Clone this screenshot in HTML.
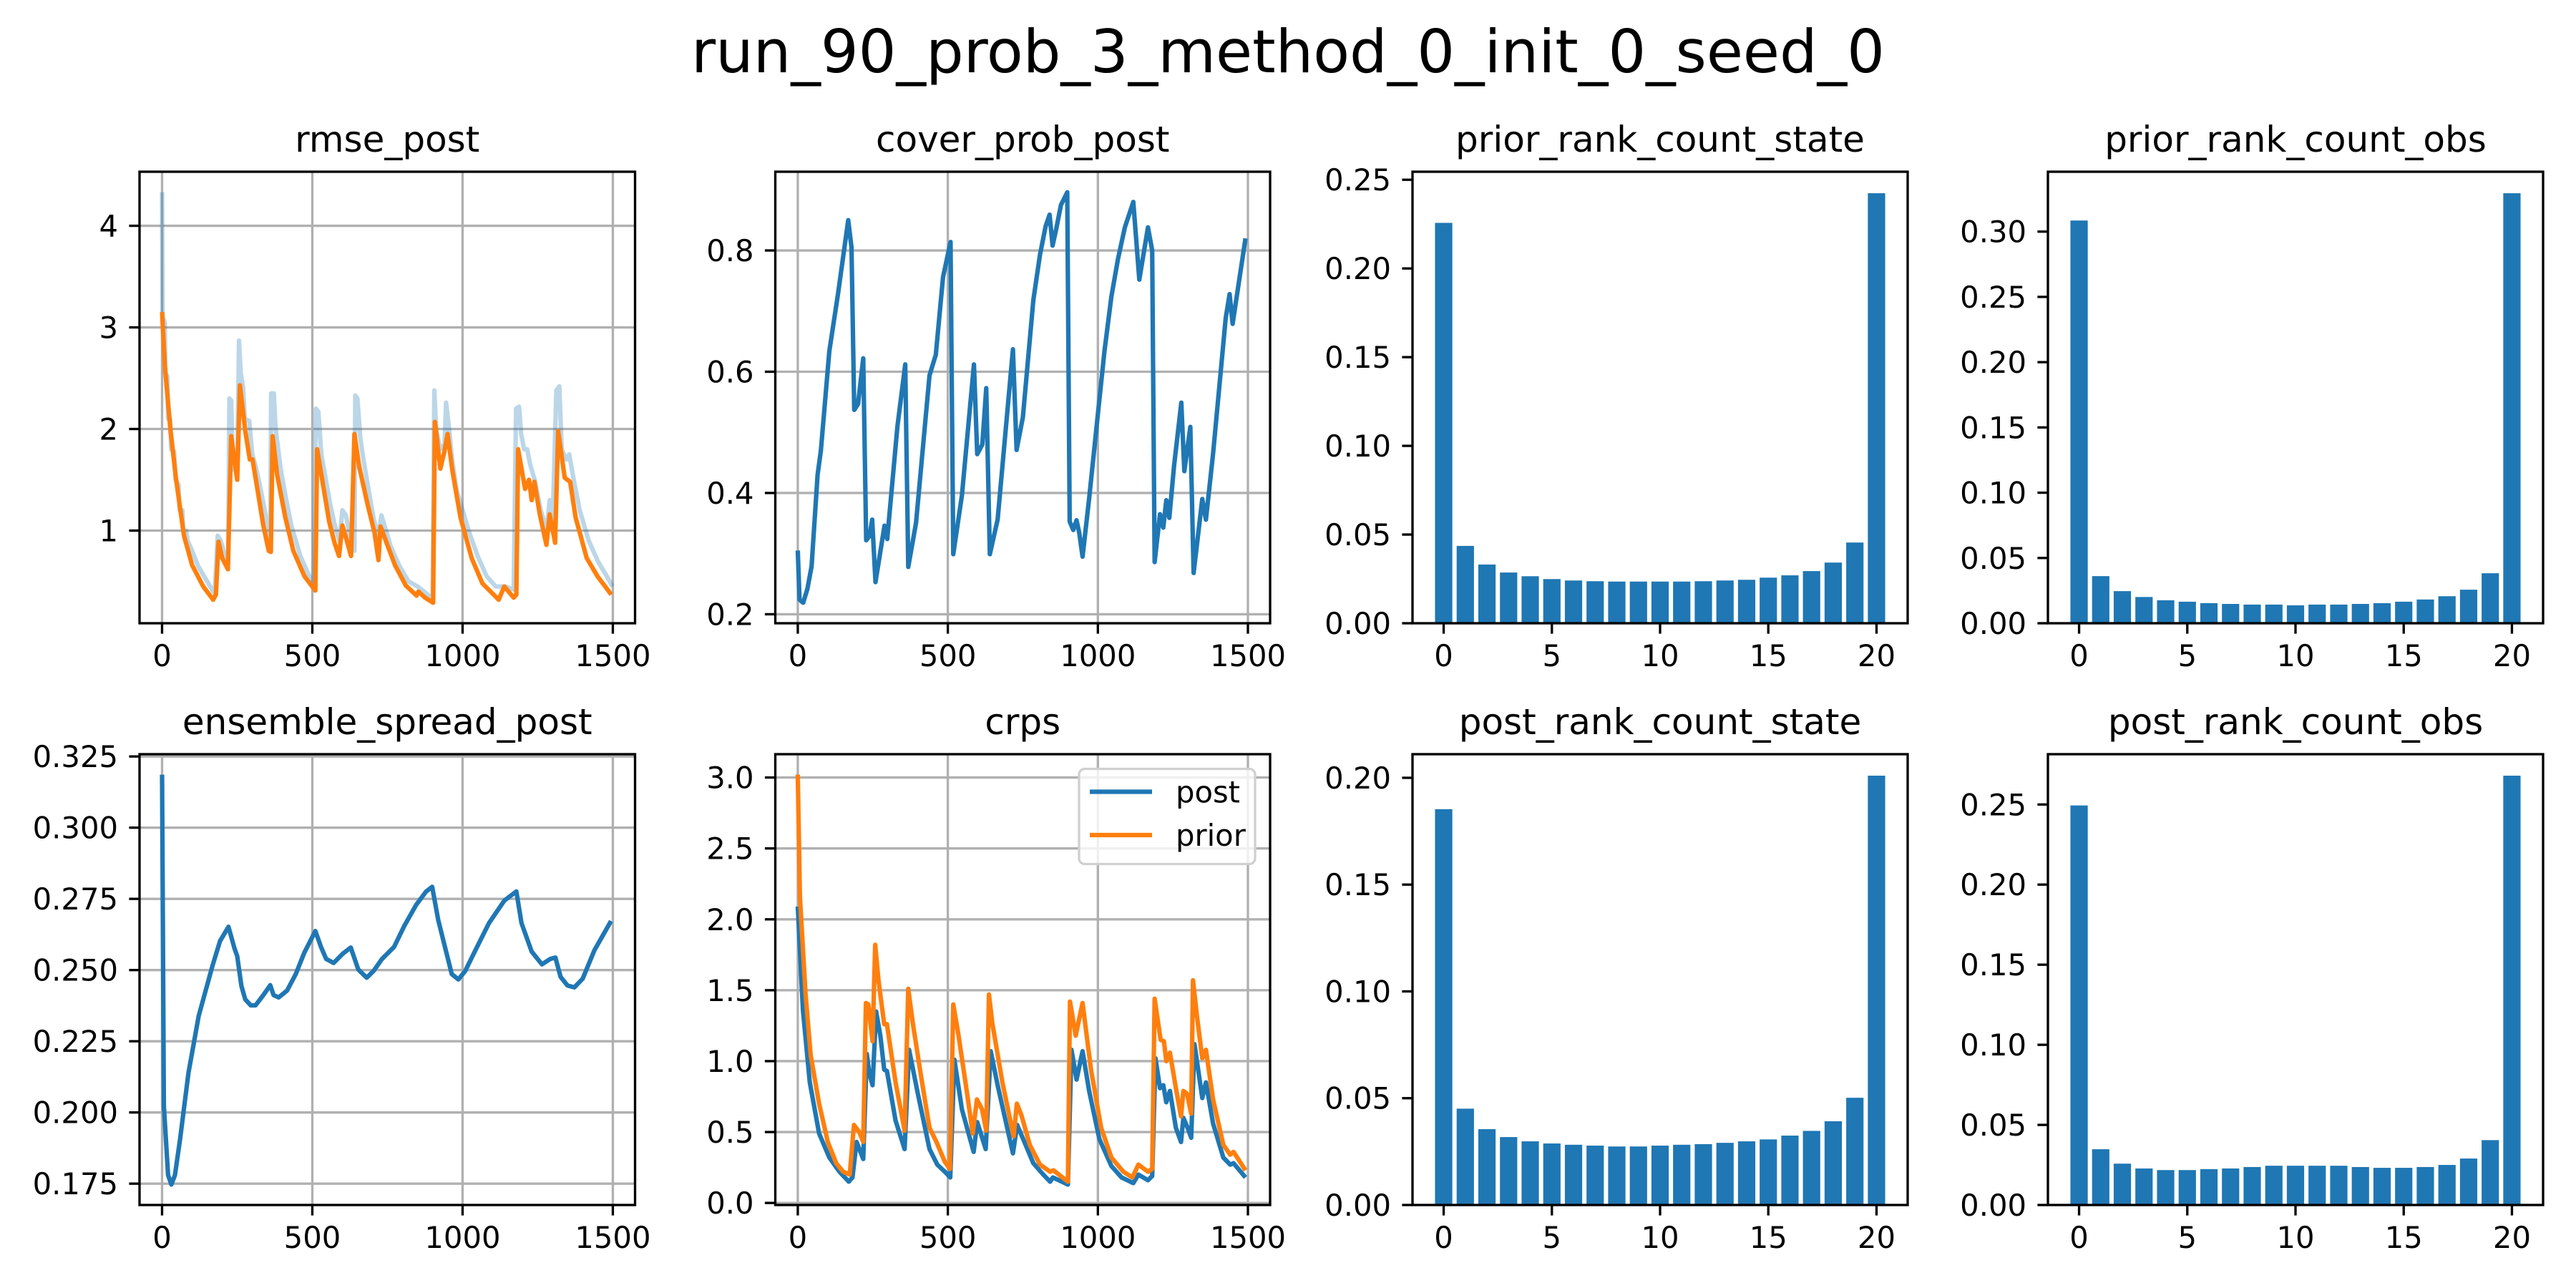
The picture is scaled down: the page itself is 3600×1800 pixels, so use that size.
<!DOCTYPE html>
<html><head><meta charset="utf-8"><title>run_90_prob_3_method_0_init_0_seed_0</title>
<style>html,body{margin:0;padding:0;background:#fff}svg{display:block}text{font-family:"DejaVu Sans","Liberation Sans",sans-serif;fill:#000}</style>
</head><body>
<svg id="fig" xmlns="http://www.w3.org/2000/svg" width="3600" height="1800" viewBox="0 0 3600 1800">
<rect x="0" y="0" width="3600" height="1800" fill="#fff"/>
<text x="1800" y="101" font-size="83" text-anchor="middle">run_90_prob_3_method_0_init_0_seed_0</text>
</svg>
<script>
// ---- data ----
const timeTicks=[0,500,1000,1500];
const rmseLightX=[0,2,9,11,18,20,27,30,40,45,55,58,68,70,80,85,100,120,140,160,175,185,195,205,215,220,224,230,236,250,256,262,270,275,290,300,310,325,345,360,363,372,378,395,410,430,460,490,505,512,520,530,545,560,575,590,600,612,625,640,643,650,660,670,690,705,720,730,745,760,790,820,850,880,900,906,912,925,940,945,955,965,980,1000,1020,1050,1080,1110,1140,1170,1178,1188,1195,1205,1215,1225,1240,1260,1280,1290,1300,1312,1322,1330,1345,1355,1370,1390,1420,1450,1480,1499];
const rmseLightY=[4.33,3.1,3.05,2.55,2.52,2.1,2.1,1.8,1.78,1.5,1.45,1.2,1.2,1.0,1.0,0.9,0.8,0.65,0.55,0.45,0.38,0.95,0.9,0.8,0.7,0.7,2.3,2.28,1.6,1.6,2.87,2.55,2.4,2.1,2.08,1.75,1.65,1.45,1.15,0.9,2.35,2.35,2.0,1.6,1.35,1.05,0.75,0.55,0.45,2.2,2.17,1.75,1.5,1.25,1.05,0.9,1.2,1.15,0.95,0.8,2.33,2.3,1.9,1.7,1.35,1.1,0.95,1.15,1.0,0.85,0.65,0.5,0.45,0.38,0.33,2.38,2.0,1.8,1.85,2.26,2.0,1.7,1.4,1.2,1.0,0.75,0.55,0.45,0.45,0.42,2.2,2.22,1.95,1.8,1.8,1.65,1.5,1.2,1.0,1.3,1.1,2.38,2.42,1.8,1.7,1.75,1.5,1.2,0.9,0.7,0.55,0.45];
const rmseX=[0,9,27,46,73,100,137,170,179,188,200,219,230,250,259,277,292,301,319,337,355,362,368,383,410,437,474,510,516,538,556,574,589,600,614,629,640,656,683,707,720,727,747,775,811,847,853,875,902,908,926,939,950,966,993,1030,1066,1120,1139,1170,1179,1185,1208,1221,1230,1239,1257,1279,1290,1308,1318,1340,1358,1376,1413,1449,1495];
const rmseY=[3.15,2.63,2.02,1.52,0.95,0.66,0.45,0.32,0.37,0.89,0.73,0.62,1.93,1.50,2.43,1.98,1.70,1.70,1.38,1.05,0.80,0.79,1.93,1.55,1.13,0.80,0.55,0.41,1.80,1.41,1.09,0.88,0.75,1.05,0.91,0.75,1.95,1.63,1.27,0.98,0.71,1.04,0.88,0.66,0.46,0.36,0.40,0.34,0.29,2.07,1.61,1.77,1.95,1.59,1.13,0.73,0.48,0.32,0.45,0.34,0.37,1.80,1.41,1.50,1.30,1.48,1.16,0.86,1.16,0.88,1.98,1.52,1.48,1.13,0.73,0.55,0.37];
const coverX=[0,6,18,32,46,66,77,105,134,168,179,188,201,218,228,239,248,259,289,298,332,358,368,394,439,460,484,509,518,547,587,598,615,628,640,666,717,729,750,785,807,826,839,849,861,877,898,906,918,929,938,949,971,1000,1022,1045,1067,1090,1118,1138,1167,1181,1189,1207,1218,1228,1238,1254,1278,1288,1308,1319,1348,1360,1384,1426,1439,1449,1492];
const coverY=[0.305,0.224,0.219,0.242,0.279,0.430,0.470,0.634,0.728,0.850,0.805,0.537,0.547,0.622,0.322,0.329,0.356,0.253,0.346,0.324,0.510,0.612,0.278,0.351,0.594,0.628,0.756,0.814,0.299,0.396,0.612,0.464,0.480,0.573,0.299,0.356,0.637,0.471,0.525,0.718,0.793,0.840,0.859,0.808,0.835,0.875,0.896,0.353,0.339,0.355,0.334,0.295,0.391,0.530,0.634,0.724,0.786,0.838,0.880,0.752,0.838,0.800,0.286,0.365,0.343,0.388,0.359,0.445,0.549,0.436,0.509,0.268,0.390,0.356,0.465,0.689,0.728,0.679,0.820];
const spreadX=[0,6,20,31,43,60,88,122,167,193,221,241,250,264,277,295,311,337,360,371,388,416,445,473,510,529,546,571,602,628,653,681,704,732,772,806,845,879,899,919,964,986,1009,1043,1088,1139,1179,1196,1230,1264,1292,1309,1326,1349,1372,1400,1439,1494];
const spreadY=[0.3186,0.2023,0.178,0.1747,0.178,0.1907,0.2139,0.2339,0.2512,0.2602,0.2652,0.2576,0.2549,0.2444,0.2397,0.2376,0.2376,0.2412,0.2447,0.2412,0.2404,0.2428,0.2486,0.256,0.2637,0.2581,0.2539,0.2525,0.2558,0.2579,0.2502,0.2473,0.2497,0.2539,0.2581,0.2655,0.2728,0.2776,0.2792,0.2676,0.2486,0.2467,0.2497,0.257,0.2665,0.2744,0.2776,0.2665,0.2565,0.252,0.2539,0.2544,0.2476,0.2446,0.2439,0.247,0.257,0.2672];
const crpsPriorX=[0,7,26,43,71,100,128,151,173,187,205,218,227,235,249,258,269,288,297,326,356,368,383,411,439,462,490,507,518,535,563,583,597,614,628,637,648,682,719,730,745,773,807,841,852,900,907,926,949,977,1011,1045,1085,1115,1135,1167,1181,1189,1209,1220,1228,1240,1260,1277,1285,1297,1311,1317,1330,1348,1360,1384,1418,1441,1452,1492];
const crpsPriorY=[3.02,2.16,1.47,1.04,0.70,0.43,0.28,0.22,0.20,0.55,0.50,0.43,1.41,1.40,1.14,1.82,1.57,1.26,1.26,0.85,0.51,1.51,1.27,0.89,0.53,0.43,0.29,0.24,1.40,1.19,0.79,0.49,0.73,0.66,0.51,1.47,1.27,0.85,0.47,0.70,0.62,0.41,0.27,0.22,0.23,0.15,1.42,1.18,1.41,0.94,0.53,0.32,0.22,0.18,0.27,0.22,0.24,1.44,1.15,1.14,1.00,1.06,0.81,0.61,0.79,0.77,0.63,1.57,1.32,1.02,1.08,0.73,0.41,0.34,0.36,0.23];
const crpsPostX=[0,17,40,71,105,139,170,182,196,218,230,238,249,261,275,288,297,326,356,371,400,439,465,490,508,522,547,586,598,626,643,666,717,731,751,785,818,841,850,900,912,929,949,971,1005,1045,1079,1118,1135,1167,1181,1192,1207,1218,1228,1240,1260,1277,1285,1299,1311,1322,1348,1360,1384,1418,1441,1452,1492];
const crpsPostY=[2.09,1.36,0.85,0.49,0.32,0.22,0.15,0.18,0.43,0.31,1.05,0.92,0.83,1.35,1.18,0.94,0.93,0.58,0.38,1.08,0.77,0.38,0.27,0.22,0.18,1.01,0.66,0.36,0.57,0.38,1.07,0.83,0.35,0.55,0.45,0.28,0.20,0.15,0.18,0.13,1.08,0.87,1.07,0.79,0.45,0.26,0.18,0.14,0.20,0.16,0.19,1.02,0.81,0.83,0.71,0.79,0.53,0.43,0.60,0.53,0.46,1.12,0.74,0.85,0.56,0.32,0.27,0.28,0.18];
const rankBins=[0,1,2,3,4,5,6,7,8,9,10,11,12,13,14,15,16,17,18,19,20];
const rankTicks=[0,5,10,15,20];
const priorState=[0.2257,0.0436,0.0331,0.0286,0.0265,0.0249,0.0241,0.0237,0.0235,0.0235,0.0235,0.0235,0.0237,0.0241,0.0245,0.0257,0.0270,0.0294,0.0342,0.0455,0.2424];
const priorObs=[0.3085,0.0361,0.0246,0.0201,0.0176,0.0165,0.0154,0.0148,0.0143,0.0143,0.0137,0.0143,0.0143,0.0148,0.0154,0.0165,0.0182,0.0207,0.0257,0.0383,0.3294];
const postState=[0.1853,0.0451,0.0355,0.0318,0.0298,0.0288,0.0282,0.0278,0.0274,0.0274,0.0278,0.0282,0.0285,0.0291,0.0298,0.0307,0.0325,0.0347,0.0392,0.0502,0.2010];
const postObs=[0.2494,0.0348,0.0258,0.0228,0.0218,0.0218,0.0224,0.0228,0.0237,0.0245,0.0245,0.0245,0.0245,0.0237,0.0232,0.0232,0.0237,0.0250,0.0290,0.0405,0.2680];
const rmseTicks=[1,2,3,4];
const coverTicks=[0.2,0.4,0.6,0.8];
const spreadTicks=[0.175,0.2,0.225,0.25,0.275,0.3,0.325];
const crpsTicks=[0,0.5,1,1.5,2,2.5,3];
const priorStateTicks=[0,0.05,0.1,0.15,0.2,0.25];
const priorObsTicks=[0,0.05,0.1,0.15,0.2,0.25,0.3];
const postStateTicks=[0,0.05,0.1,0.15,0.2];
const postObsTicks=[0,0.05,0.1,0.15,0.2,0.25];

const NS='http://www.w3.org/2000/svg';
const svg=document.getElementById('fig');
const C0='#1f77b4', C1='#ff7f0e';
const FS=41.7, LW=6.25, SW=3.33;

function mk(tag, attrs, parent){
  const e=document.createElementNS(NS,tag);
  for(const k in attrs) e.setAttribute(k,attrs[k]);
  parent.appendChild(e);
  return e;
}
function ext(arrs, pad){
  let lo=Infinity, hi=-Infinity;
  arrs.forEach(a=>a.forEach(v=>{if(v<lo)lo=v;if(v>hi)hi=v;}));
  const r=hi-lo; return [lo-r*pad, hi+r*pad];
}
let clipN=0;
function panel(name, box, xlim, ylim, xticks, yticks, yfmt, grid, title){
  const g=mk('g',{},svg);
  
  
  const [L,T,R,B]=box;
  const sx=v=>L+(v-xlim[0])/(xlim[1]-xlim[0])*(R-L);
  const sy=v=>B-(v-ylim[0])/(ylim[1]-ylim[0])*(B-T);
  const cid='clip'+(clipN++);
  const cp=mk('clipPath',{id:cid},g);
  mk('rect',{x:L,y:T,width:R-L,height:B-T},cp);
  const t=mk('text',{x:(L+R)/2,y:T-28,'font-size':50,'text-anchor':'middle'},g);
  t.textContent=title;
  
  
  xticks.forEach(v=>{
    const x=sx(v);
    if(grid){
      const gl=mk('line',{x1:x,x2:x,y1:T,y2:B,stroke:'#b0b0b0','stroke-width':SW},g);
      
      
    }
    const tk=mk('line',{x1:x,x2:x,y1:B,y2:B+14.6,stroke:'#000','stroke-width':SW},g);
    
    
    const lb=mk('text',{x:x,y:B+60,'font-size':FS,'text-anchor':'middle'},g);
    lb.textContent=String(v);
    
    
  });
  yticks.forEach(v=>{
    if(v<ylim[0]-1e-9||v>ylim[1]+1e-9) return;
    const y=sy(v);
    if(grid){
      const gl=mk('line',{x1:L,x2:R,y1:y,y2:y,stroke:'#b0b0b0','stroke-width':SW},g);
      
      
    }
    const tk=mk('line',{x1:L-14.6,x2:L,y1:y,y2:y,stroke:'#000','stroke-width':SW},g);
    
    
    const lb=mk('text',{x:L-30,y:y+15,'font-size':FS,'text-anchor':'end'},g);
    lb.textContent=yfmt(v);
    
    
  });
  return {g,sx,sy,cid,box,name};
}
function line(p, xs, ys, color, nm){
  const pts=xs.map((x,i)=>p.sx(x).toFixed(1)+','+p.sy(ys[i]).toFixed(1)).join(' ');
  const pl=mk('polyline',{points:pts,fill:'none',stroke:color,'stroke-width':LW,'stroke-linejoin':'round','clip-path':'url(#'+p.cid+')'},p.g);
  
  
}
function bars(p, xs, vals){
  xs.forEach((x,i)=>{
    const x0=p.sx(x-0.4), x1=p.sx(x+0.4), y0=p.sy(0), y1=p.sy(vals[i]);
    const r=mk('rect',{x:x0,y:y1,width:x1-x0,height:y0-y1,fill:C0},p.g);
    
    
  });
}
function frame(p){
  const [L,T,R,B]=p.box;
  const f=mk('rect',{x:L,y:T,width:R-L,height:B-T,fill:'none',stroke:'#000','stroke-width':SW},p.g);
  
  
}
const f0=v=>String(v), f1=v=>v.toFixed(1), f2=v=>v.toFixed(2), f3=v=>v.toFixed(3);
const tx=[-74.95,1573.95];
const rx=[-1.44,21.44];
const R1=[240,871], R2=[1054,1684];
const C=[[195,887.5],[1083.5,1775],[1974,2666],[2862,3554]];

// rmse_post
let p=panel('rmse-post',[C[0][0],R1[0],C[0][1],R1[1]],tx,ext([rmseLightY,rmseY],0.05),timeTicks,rmseTicks,f0,true,'rmse_post');
line(p,rmseLightX,rmseLightY,'rgba(31,119,180,0.3)','rmse-obs-line');
line(p,rmseX,rmseY,C1,'rmse-post-line');
frame(p);
// cover_prob_post
p=panel('cover-prob-post',[C[1][0],R1[0],C[1][1],R1[1]],tx,ext([coverY],0.05),timeTicks,coverTicks,f1,true,'cover_prob_post');
line(p,coverX,coverY,C0,'cover-prob-line');
frame(p);
// prior rank state
p=panel('prior-rank-count-state',[C[2][0],R1[0],C[2][1],R1[1]],rx,[0,Math.max(...priorState)*1.05],rankTicks,priorStateTicks,f2,false,'prior_rank_count_state');
bars(p,rankBins,priorState); frame(p);
// prior rank obs
p=panel('prior-rank-count-obs',[C[3][0],R1[0],C[3][1],R1[1]],rx,[0,Math.max(...priorObs)*1.05],rankTicks,priorObsTicks,f2,false,'prior_rank_count_obs');
bars(p,rankBins,priorObs); frame(p);
// ensemble spread
p=panel('ensemble-spread-post',[C[0][0],R2[0],C[0][1],R2[1]],tx,ext([spreadY],0.05),timeTicks,spreadTicks,f3,true,'ensemble_spread_post');
line(p,spreadX,spreadY,C0,'ensemble-spread-line');
frame(p);
// crps
p=panel('crps',[C[1][0],R2[0],C[1][1],R2[1]],tx,ext([crpsPriorY,crpsPostY],0.05),timeTicks,crpsTicks,f1,true,'crps');
line(p,crpsPostX,crpsPostY,C0,'crps-post-line');
line(p,crpsPriorX,crpsPriorY,C1,'crps-prior-line');
frame(p);
const lg=mk('g',{},p.g);


const lbox=mk('rect',{x:1508,y:1074.5,width:246,height:133,rx:8,fill:'rgba(255,255,255,0.8)',stroke:'#d0d0d0','stroke-width':SW},lg);


[['post',C0,1106.5],['prior',C1,1167]].forEach(([t,c,y])=>{
  const l=mk('line',{x1:1523,x2:1610,y1:y,y2:y,stroke:c,'stroke-width':LW},lg);
  
  
  const tt=mk('text',{x:1643,y:y+15,'font-size':FS},lg);
  tt.textContent=t;
  
  
});
// post rank state
p=panel('post-rank-count-state',[C[2][0],R2[0],C[2][1],R2[1]],rx,[0,Math.max(...postState)*1.05],rankTicks,postStateTicks,f2,false,'post_rank_count_state');
bars(p,rankBins,postState); frame(p);
// post rank obs
p=panel('post-rank-count-obs',[C[3][0],R2[0],C[3][1],R2[1]],rx,[0,Math.max(...postObs)*1.05],rankTicks,postObsTicks,f2,false,'post_rank_count_obs');
bars(p,rankBins,postObs); frame(p);
</script>
</body></html>
